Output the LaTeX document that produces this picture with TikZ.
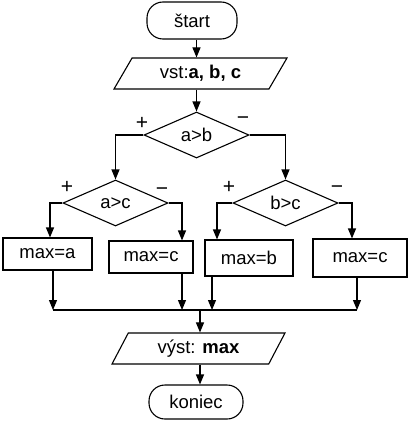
\documentclass[tikz,border=0pt]{standalone}
\usepackage{fontspec}
\setmainfont{Liberation Sans}
\usetikzlibrary{arrows.meta,shapes.geometric}
\begin{document}
\begin{tikzpicture}[x=1pt,y=-1pt,
 every node/.style={font=\fontsize{18.5}{21}\selectfont, inner sep=0pt},
 ln/.style={line width=1.1pt},
 arr/.style={line width=1.1pt,-{Triangle[width=8pt,length=10pt]}},
 term/.style={draw,line width=1.1pt,rounded corners=16pt,minimum height=37pt},
 io/.style={draw,line width=1.1pt,trapezium,trapezium stretches body,minimum width=173pt,minimum height=31pt},
 dec/.style={draw,line width=1.1pt,diamond,aspect=2.3,minimum width=105pt,minimum height=46pt},
 proc/.style={draw,rectangle,line width=1.1pt},
 sign/.style={font=\fontsize{21}{23}\selectfont}]
\useasboundingbox (0,0) rectangle (411,428);

\node[term,minimum width=90pt] (start) at (192,20.5) {štart};
\node[io,trapezium left angle=42,trapezium right angle=138] (in) at (200.5,73.5) {vst:\textbf{a, b, c}};
\node[dec] (d1) at (196.5,135) {a>b};
\node[dec] (d2) at (115.5,203) {a>c};
\node[dec] (d3) at (285.5,203) {b>c};
\node[proc,minimum width=89pt,minimum height=32pt] (ma) at (47.5,254) {max=a};
\node[proc,minimum width=84pt,minimum height=32pt] (mc1) at (151,257) {max=c};
\node[proc,minimum width=88pt,minimum height=36pt] (mb) at (249,258) {max=b};
\node[proc,minimum width=94pt,minimum height=38pt] (mc2) at (360,258) {max=c};
\node[io,trapezium left angle=47,trapezium right angle=133] (out) at (198.5,348.5) {výst: \textbf{max}};
\node[term,minimum width=94pt,minimum height=34pt] (end) at (196,402) {koniec};

\node[sign] (p1) at (142,123) {+};
\node[sign] (m1) at (243,121) {−};
\node[sign] (p2) at (67,187) {+};
\node[sign] (m2) at (162,192) {−};
\node[sign] (p3) at (229,187) {+};
\node[sign] (m3) at (337,190) {−};

\coordinate (ka) at (50,0);
\coordinate (kc1) at (182,0);
\coordinate (kb) at (217,0);
\coordinate (kc2) at (352,0);
\coordinate (j1) at (53,310);
\coordinate (j2) at (182,310);
\coordinate (j3) at (212,310);
\coordinate (j4) at (357,310);
\coordinate (jo) at (200,310);

\draw[arr] (start.south -| d1.north) -- (in.north -| d1.north);
\draw[arr] (in.south -| d1.north) -- (d1.north);
\draw[arr] (d1.west) -| (d2.north);
\draw[arr] (d1.east) -| (d3.north);
\draw[arr] (d2.west) -| (ma.north -| ka);
\draw[arr] (d2.east) -| (mc1.north -| kc1);
\draw[arr] (d3.west) -| (mb.north -| kb);
\draw[arr] (d3.east) -| (mc2.north -| kc2);
\draw[arr] (ma.south -| j1) -- (j1);
\draw[arr] (mc1.south -| j2) -- (j2);
\draw[arr] (mb.south -| j3) -- (j3);
\draw[arr] (mc2.south -| j4) -- (j4);
\draw[ln] (j1) -- (j4);
\draw[arr] (jo) -- (out.north -| jo);
\draw[arr] (out.south -| jo) -- (end.north -| jo);
\end{tikzpicture}
\end{document}
